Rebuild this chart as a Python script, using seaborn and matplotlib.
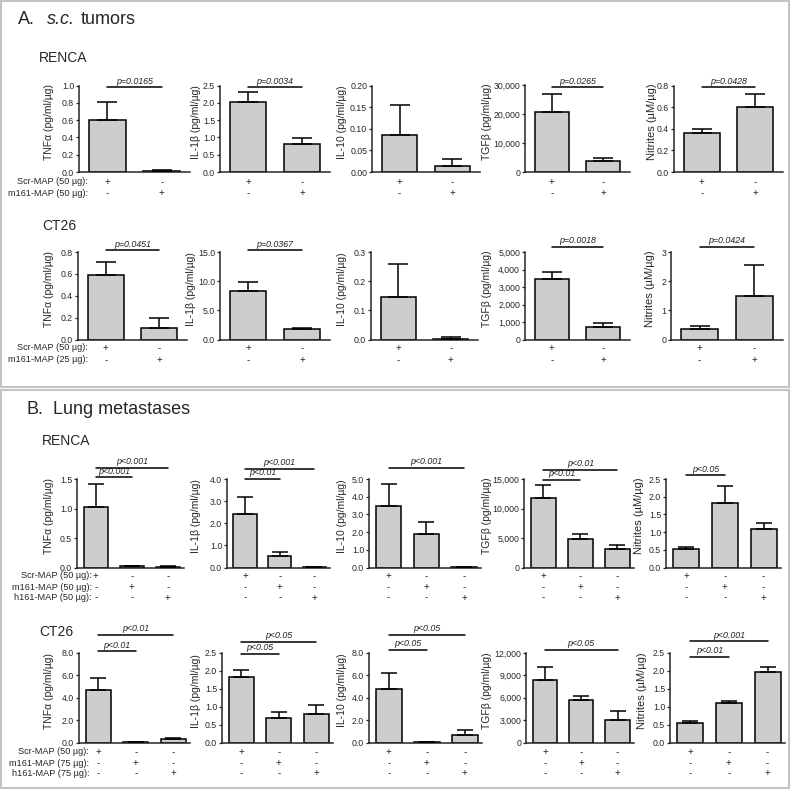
import numpy as np
import pandas as pd
import matplotlib
matplotlib.use("Agg")
import matplotlib.pyplot as plt
from matplotlib.patches import Rectangle
from matplotlib.ticker import FixedLocator, FuncFormatter
import seaborn as sns

sns.set_style("ticks")
plt.rcParams["font.family"] = ["Liberation Sans", "DejaVu Sans"]

# ---------------------------------------------------------------- data
ylabels = ["TNFα (pg/ml/µg)", "IL-1β (pg/ml/µg)", "IL-10 (pg/ml/µg)",
           "TGFβ (pg/ml/µg)", "Nitrites (µM/µg)"]

# A. s.c. tumors – RENCA
a_renca_mean = [[0.60, 0.01], [2.02, 0.80], [0.086, 0.015], [20900, 3900], [0.357, 0.597]]
a_renca_tip = [[0.81, 0.02], [2.32, 0.97], [0.154, 0.029], [27000, 4700], [0.394, 0.717]]
a_renca_ymax = [1.0, 2.5, 0.20, 30000, 0.8]
a_renca_step = [0.2, 0.5, 0.05, 10000, 0.2]
a_renca_dec = [1, 1, 2, 0, 1]
a_renca_p = [[(0, 1, "p=0.0165")], [(0, 1, "p=0.0034")], [], [(0, 1, "p=0.0265")], [(0, 1, "p=0.0428")]]
a_renca_rows = ["Scr-MAP (50 µg):", "m161-MAP (50 µg):"]

# A. s.c. tumors – CT26
a_ct26_mean = [[0.59, 0.107], [8.3, 1.8], [0.147, 0.003], [3450, 740], [0.36, 1.49]]
a_ct26_tip = [[0.71, 0.20], [9.9, 2.05], [0.26, 0.007], [3870, 950], [0.47, 2.55]]
a_ct26_ymax = [0.8, 15.0, 0.3, 5000, 3]
a_ct26_step = [0.2, 5.0, 0.1, 1000, 1]
a_ct26_dec = [1, 1, 1, 0, 0]
a_ct26_p = [[(0, 1, "p=0.0451")], [(0, 1, "p=0.0367")], [], [(0, 1, "p=0.0018")], [(0, 1, "p=0.0424")]]
a_ct26_rows = ["Scr-MAP (50 µg):", "m161-MAP (25 µg):"]

# B. Lung metastases – RENCA
b_renca_mean = [[1.03, 0.02, 0.015], [2.44, 0.52, 0.03], [3.48, 1.87, 0.02],
                [11700, 4900, 3200], [0.51, 1.83, 1.08]]
b_renca_tip = [[1.42, 0.03, 0.02], [3.17, 0.70, 0.04], [4.70, 2.59, 0.03],
               [13900, 5750, 3880], [0.59, 2.30, 1.27]]
b_renca_ymax = [1.5, 4.0, 5.0, 15000, 2.5]
b_renca_step = [0.5, 1.0, 1.0, 5000, 0.5]
b_renca_dec = [1, 1, 1, 0, 1]
b_renca_p = [[(0, 2, "p<0.001"), (0, 1, "p<0.001")], [(0, 2, "p<0.001"), (0, 1, "p<0.01")],
             [(0, 2, "p<0.001")], [(0, 2, "p<0.01"), (0, 1, "p<0.01")], [(0, 1, "p<0.05")]]
b_renca_rows = ["Scr-MAP (50 µg):", "m161-MAP (50 µg):", "h161-MAP (50 µg):"]

# B. Lung metastases – CT26
b_ct26_mean = [[4.7, 0.05, 0.30], [1.82, 0.69, 0.80], [4.8, 0.05, 0.66],
               [8400, 5740, 3070], [0.55, 1.10, 1.96]]
b_ct26_tip = [[5.8, 0.06, 0.42], [2.03, 0.86, 1.05], [6.2, 0.06, 1.10],
              [10100, 6230, 4200], [0.61, 1.16, 2.11]]
b_ct26_ymax = [8.0, 2.5, 8.0, 12000, 2.5]
b_ct26_step = [2.0, 0.5, 2.0, 3000, 0.5]
b_ct26_dec = [1, 1, 1, 0, 1]
b_ct26_p = [[(0, 2, "p<0.01"), (0, 1, "p<0.01")], [(0, 2, "p<0.05"), (0, 1, "p<0.05")],
            [(0, 2, "p<0.05"), (0, 1, "p<0.05")], [(0, 2, "p<0.05")],
            [(0, 2, "p<0.001"), (0, 1, "p<0.01")]]
b_ct26_rows = ["Scr-MAP (50 µg):", "m161-MAP (75 µg):", "h161-MAP (75 µg):"]

# ---------------------------------------------------------------- layout (pixels)
W, H = 793, 790
BAR_COLOR = "#cdcdcd"

layout = {
    "a_renca": dict(top=85.5, bottom=172,
                    cols=[(79, 190), (220, 330), (372, 480), (525, 630), (674, 783)],
                    levels=[[0.98], [0.98], [], [0.98], [0.98]],
                    label_x=[54, 201, 347, 492, 657],
                    sign_off=[10, 21], row_label_x=88),
    "a_ct26": dict(top=252, bottom=339.5,
                   cols=[(78, 187), (220, 330), (371, 478), (525, 630), (671, 783)],
                   levels=[[1.02], [1.02], [], [1.06], [1.06]],
                   label_x=[54, 196, 347, 492, 655],
                   sign_off=[8.5, 20.5], row_label_x=88),
    "b_renca": dict(top=479, bottom=567.5,
                    cols=[(77, 184), (227, 330), (369, 481), (524, 634), (666, 781)],
                    levels=[[1.125, 1.018], [1.117, 1.0], [1.125], [1.104, 0.99], [1.04]],
                    label_x=[54, 201, 347, 492, 644],
                    sign_off=[8.5, 19.5, 30], row_label_x=92),
    "b_ct26": dict(top=653, bottom=742.5,
                   cols=[(79, 190), (222, 333), (369, 482), (526, 634), (670, 785)],
                   levels=[[1.205, 1.02], [1.124, 0.99], [1.205, 1.036], [1.037], [1.13, 0.96]],
                   label_x=[54, 201, 347, 492, 647],
                   sign_off=[9.5, 20.5, 30.5], row_label_x=89),
}

PX2PT = 72 / 100.0

fig = plt.figure(figsize=(W / 100, H / 100), dpi=100)
fig.patch.set_facecolor("white")


def sign_matrix(n):
    return [["+" if r == c else "-" for c in range(n)] for r in range(n)]


def draw_row(key, means, tips, ymaxs, steps, decs, pvals, rows):
    lay = layout[key]
    n = len(means[0])
    signs = sign_matrix(n)
    for k in range(5):
        l, r = lay["cols"][k]
        ax = fig.add_axes([l / W, 1 - lay["bottom"] / H, (r - l) / W,
                           (lay["bottom"] - lay["top"]) / H])
        df = pd.DataFrame({"group": [f"g{i}" for i in range(n)], "value": means[k]})
        sns.barplot(data=df, x="group", y="value", color=BAR_COLOR, edgecolor="black",
                    linewidth=1.1, width=0.67, errorbar=None, saturation=1, ax=ax,
                    zorder=2)
        m = np.array(means[k], dtype=float)
        up = np.array(tips[k], dtype=float) - m
        ax.errorbar(np.arange(n), m, yerr=[np.zeros(n), up], fmt="none",
                    ecolor="black", elinewidth=1.1, capsize=7 if n == 2 else 5.5,
                    capthick=1.1, zorder=3)
        ymax = ymaxs[k]
        ax.set_ylim(0, ymax)
        ax.set_xlim(-0.52, n - 0.5 + (0.02 if n == 2 else -0.05))
        ticks = np.arange(0, ymax + steps[k] / 2, steps[k])
        ax.yaxis.set_major_locator(FixedLocator(ticks))
        d = decs[k]
        ax.yaxis.set_major_formatter(FuncFormatter(lambda v, p, d=d: f"{v:,.{d}f}"))
        ax.set_xticks([])
        ax.set_xlabel("")
        ax.set_ylabel(ylabels[k], fontsize=8 if k == 4 else 7.5)
        ax.yaxis.set_label_coords((lay["label_x"][k] - l) / (r - l), 0.58)
        ax.tick_params(axis="y", direction="out", length=2.5, width=0.9,
                       labelsize=6.3, pad=1)
        for s in ("top", "right"):
            ax.spines[s].set_visible(False)
        for s in ("left", "bottom"):
            ax.spines[s].set_linewidth(1.1)
        ax.patch.set_alpha(0)
        # significance brackets
        for (i, j, txt), lev in zip(pvals[k], lay["levels"][k]):
            y = lev * ymax
            ax.plot([i, j], [y, y], color="black", lw=1.1, clip_on=False, zorder=4)
            ax.annotate(txt, xy=((i + j) / 2, y), xytext=(0, 1.2), textcoords="offset points",
                        ha="center", va="bottom", fontsize=6.4, style="italic",
                        color="#222222", annotation_clip=False)
        # treatment signs
        for rr in range(n):
            for c in range(n):
                ax.annotate(signs[rr][c], xy=(c, 0), xycoords=("data", "axes fraction"),
                            xytext=(0, -lay["sign_off"][rr] * PX2PT),
                            textcoords="offset points", ha="center", va="center",
                            fontsize=7, annotation_clip=False)
    # row labels
    for rr, lab in enumerate(rows):
        y = lay["bottom"] + lay["sign_off"][rr]
        fig.text(lay["row_label_x"] / W, 1 - y / H, lab, ha="right", va="center",
                 fontsize=6.6)


draw_row("a_renca", a_renca_mean, a_renca_tip, a_renca_ymax, a_renca_step, a_renca_dec,
         a_renca_p, a_renca_rows)
draw_row("a_ct26", a_ct26_mean, a_ct26_tip, a_ct26_ymax, a_ct26_step, a_ct26_dec,
         a_ct26_p, a_ct26_rows)
draw_row("b_renca", b_renca_mean, b_renca_tip, b_renca_ymax, b_renca_step, b_renca_dec,
         b_renca_p, b_renca_rows)
draw_row("b_ct26", b_ct26_mean, b_ct26_tip, b_ct26_ymax, b_ct26_step, b_ct26_dec,
         b_ct26_p, b_ct26_rows)

# ---------------------------------------------------------------- titles


def ftext(xp, yp, s, **kw):
    fig.text(xp / W, 1 - yp / H, s, va="baseline", ha="left", **kw)


ftext(18, 23.5, "A.", fontsize=13)
ftext(47, 23.5, "s.c.", fontsize=13, style="italic")
ftext(81, 23.5, "tumors", fontsize=13)
ftext(39, 61.5, "RENCA", fontsize=10)
ftext(42, 230, "CT26", fontsize=10)
ftext(26, 414, "B.", fontsize=13)
ftext(53, 414, "Lung metastases", fontsize=13)
ftext(42, 445, "RENCA", fontsize=10)
ftext(39, 635.5, "CT26", fontsize=10)

# frames
for (x0, y0, x1, y1) in [(1, 1, 789, 387), (1, 389.5, 789, 788)]:
    fig.add_artist(Rectangle((x0 / W, 1 - y1 / H), (x1 - x0) / W, (y1 - y0) / H,
                             transform=fig.transFigure, fill=False,
                             edgecolor="#c4c4c4", linewidth=1.5))

fig.savefig("out.png", dpi=100)
